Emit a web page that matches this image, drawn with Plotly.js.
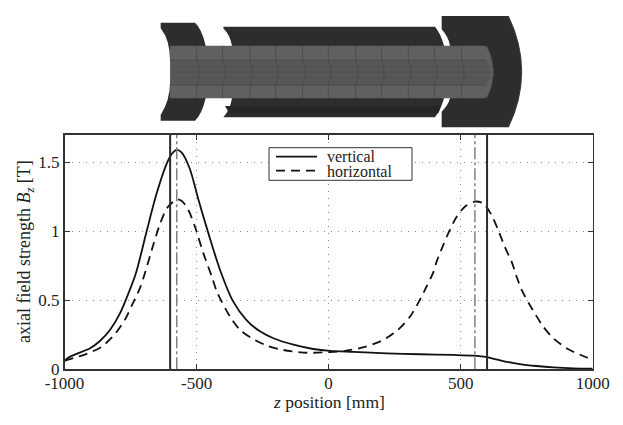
<!DOCTYPE html>
<html><head><meta charset="utf-8">
<script src="https://cdn.plot.ly/plotly-3.0.1.min.js"></script>
<style>html,body{margin:0;padding:0;background:#fff}</style></head>
<body><div id="c" style="width:623px;height:425px"></div>
<script>
const verticalZ = [-1000,-985,-954,-903,-866,-828,-790,-758,-729,-689,-651,-613,-594,-575,-556,-525,-493,-455,-411,-361,-310,-260,-209,-133,-58,5,94,220,346,472,548,598,661,724,787,851,926,1000];
const verticalB = [0.06,0.085,0.112,0.152,0.205,0.285,0.405,0.55,0.70,1.0,1.275,1.49,1.56,1.59,1.57,1.45,1.23,0.985,0.72,0.49,0.355,0.275,0.225,0.178,0.147,0.133,0.126,0.116,0.109,0.104,0.099,0.089,0.06,0.038,0.024,0.014,0.007,0.005];
const horizontalZ = [-1000,-916,-859,-809,-771,-746,-714,-695,-664,-638,-613,-594,-575,-556,-531,-506,-474,-442,-423,-373,-335,-291,-234,-171,-83,5,67,130,199,262,308,342,371,396,409,434,453,485,516,554,585,617,642,667,693,712,731,762,813,851,908,971,1000];
const horizontalB = [0.062,0.112,0.164,0.255,0.36,0.46,0.59,0.70,0.9,1.055,1.165,1.205,1.232,1.22,1.154,1.033,0.84,0.671,0.562,0.381,0.285,0.225,0.172,0.14,0.12,0.125,0.135,0.159,0.205,0.285,0.381,0.49,0.6,0.70,0.78,0.9,0.985,1.106,1.178,1.215,1.203,1.118,1.01,0.888,0.78,0.671,0.575,0.466,0.309,0.225,0.145,0.091,0.07];
const magnetEdges = [-600,600];
const fieldPeaks = [-575,554];
const yTicks = [0,0.5,1,1.5];
const yLabels = ['0','0.5','1','1.5'];
const xTicks = [-1000,-500,0,500,1000];
const xLabels = ['-1000','-500','0','500','1000'];
const segmentEdges = [170,248,330,407,488,565,647,725,805,884,965];
const seriesNames = ['vertical','horizontal'];

const W=623,H=425;
const X0=64.5,X1=592.7,Y0=134.7,Y1=369.3;
function p(str){
  return str.replace(/(-?[\d.]+) (-?[\d.]+)/g,(m,a,b)=>((140+a/3)/W)+' '+(1-(b/3)/H));
}
function art(path,fill,line,lw){
  return {type:'path',xref:'paper',yref:'paper',path:p(path),fillcolor:fill||'rgba(0,0,0,0)',
    line:{color:line||'rgba(0,0,0,0)',width:lw||0},layer:'above'};
}
const ringDark='#2d2d2d', ringEdge='#3a3a3a', tube='#606060', core='#575757', seam='#474747';
const shapes=[
  art('M62 68 L165 68 Q185 85 197 137 L197 295 Q185 345 165 362 L62 362 L62 345 Q90 300 90 250 L90 180 Q90 120 62 85 Z',ringDark),
  art('M250 80 L885 80 Q902 100 912 137 L912 295 Q902 330 885 352 L250 352 Q270 330 276 295 L276 137 Q270 105 250 85 Z',ringDark),
  art('M905 48 L1105 48 Q1145 130 1145 215 Q1145 300 1105 382 L905 382 L905 335 Q925 315 930 295 L930 137 Q925 110 905 88 Z',ringDark),
  art('M1105 48 Q1145 130 1145 215 Q1145 300 1105 382',null,ringEdge,1),
  art('M255 318 L903 318 L895 340 L268 340 Z','#262626'),
  art('M90 137 L1035 137 Q1055 150 1060 215 Q1055 280 1035 295 L90 295 Z',tube),
  art('M90 180 Q100 217 90 255 L1040 255 Q1062 217 1040 180 Z',core),
  art('M90 180 L1040 180',null,seam,0.8),
  art('M90 255 L1040 255',null,seam,0.8),
  art('M100 200 L1058 200',null,'#4e4e4e',0.6),
  art('M100 217 L1060 217',null,'#4e4e4e',0.6),
  art('M100 235 L1058 235',null,'#4e4e4e',0.6),
  art('M1040 137 Q1060 180 1060 217 Q1060 255 1040 295',null,'#4a4a4a',0.8)
];
segmentEdges.forEach(e=>{
  shapes.push(art(`M${e} 137 L${e} 180`,null,seam,0.8));
  shapes.push(art(`M${e} 255 L${e} 295`,null,seam,0.8));
  shapes.push(art(`M${e} 180 Q${e+16} 217 ${e} 255`,null,seam,0.8));
});
const LX=269,LX2=412,LY=147.7,LY2=180.3;
shapes.push({type:'rect',xref:'paper',yref:'paper',x0:LX/W,x1:LX2/W,y0:1-LY2/H,y1:1-LY/H,fillcolor:'#fff',line:{color:'#333',width:1},layer:'above'});
shapes.push({type:'line',xref:'paper',yref:'paper',x0:276/W,x1:317/W,y0:1-156.7/H,y1:1-156.7/H,line:{color:'#111',width:1.8},layer:'above'});
shapes.push({type:'line',xref:'paper',yref:'paper',x0:276/W,x1:317/W,y0:1-170.7/H,y1:1-170.7/H,line:{color:'#111',width:1.8,dash:'9px,6px'},layer:'above'});

const data=[
 {x:verticalZ,y:verticalB,name:seriesNames[0],mode:'lines',line:{color:'#111',width:1.8,shape:'spline',smoothing:0.8,simplify:false}},
 {x:horizontalZ,y:horizontalB,name:seriesNames[1],mode:'lines',line:{color:'#111',width:1.8,dash:'9px,6px',shape:'spline',smoothing:0.8,simplify:false}},
];
magnetEdges.forEach(z=>data.push({x:[z,z],y:[0,1.7],mode:'lines',hoverinfo:'skip',line:{color:'#2a2a2a',width:2}}));
fieldPeaks.forEach(z=>data.push({x:[z,z],y:[0,1.7],mode:'lines',hoverinfo:'skip',line:{color:'#808080',width:1.5,dash:'12px,3px,3px,3px'}}));

const fam='"Liberation Serif",serif';
const fnt={family:fam,size:17,color:'#222'};
const axis={showline:true,mirror:'ticks',linecolor:'#333',linewidth:1.5,ticks:'inside',ticklen:5,tickcolor:'#333',tickwidth:1,
  showgrid:true,gridcolor:'#888',griddash:'1px,6px',gridwidth:1,zeroline:false,tickfont:fnt};
const layout={
 width:W,height:H,margin:{l:0,r:0,t:0,b:0},paper_bgcolor:'#fff',plot_bgcolor:'#fff',font:fnt,
 xaxis:Object.assign({},axis,{domain:[X0/W,X1/W],range:[-1000,1000],tickmode:'array',tickvals:xTicks,ticktext:xLabels,ticklabelstandoff:-2}),
 yaxis:Object.assign({},axis,{domain:[1-Y1/H,1-Y0/H],range:[0,1.7],tickmode:'array',tickvals:yTicks,ticktext:yLabels}),
 shapes:shapes,
 showlegend:false,
 annotations:[
  {xref:'paper',yref:'paper',x:328.5/W,y:1-402/H,showarrow:false,xanchor:'center',yanchor:'middle',font:{family:fam,size:17.5,color:'#222'},text:'<i>z</i> position [mm]'},
  {xref:'paper',yref:'paper',x:26/W,y:1-252/H,showarrow:false,textangle:-90,xanchor:'center',yanchor:'middle',font:{family:fam,size:18,color:'#222'},text:'axial field strength <i>B<sub>z</sub></i> [T]'},
  {xref:'paper',yref:'paper',x:327/W,y:1-156.5/H,showarrow:false,xanchor:'left',yanchor:'middle',xshift:-1,borderpad:0,font:{family:fam,size:16,color:'#222'},text:seriesNames[0]},
  {xref:'paper',yref:'paper',x:327/W,y:1-171/H,showarrow:false,xanchor:'left',yanchor:'middle',xshift:-1,borderpad:0,font:{family:fam,size:16,color:'#222'},text:seriesNames[1]}
 ]
};
Plotly.newPlot('c',data,layout,{displayModeBar:false,staticPlot:true});
</script></body></html>
